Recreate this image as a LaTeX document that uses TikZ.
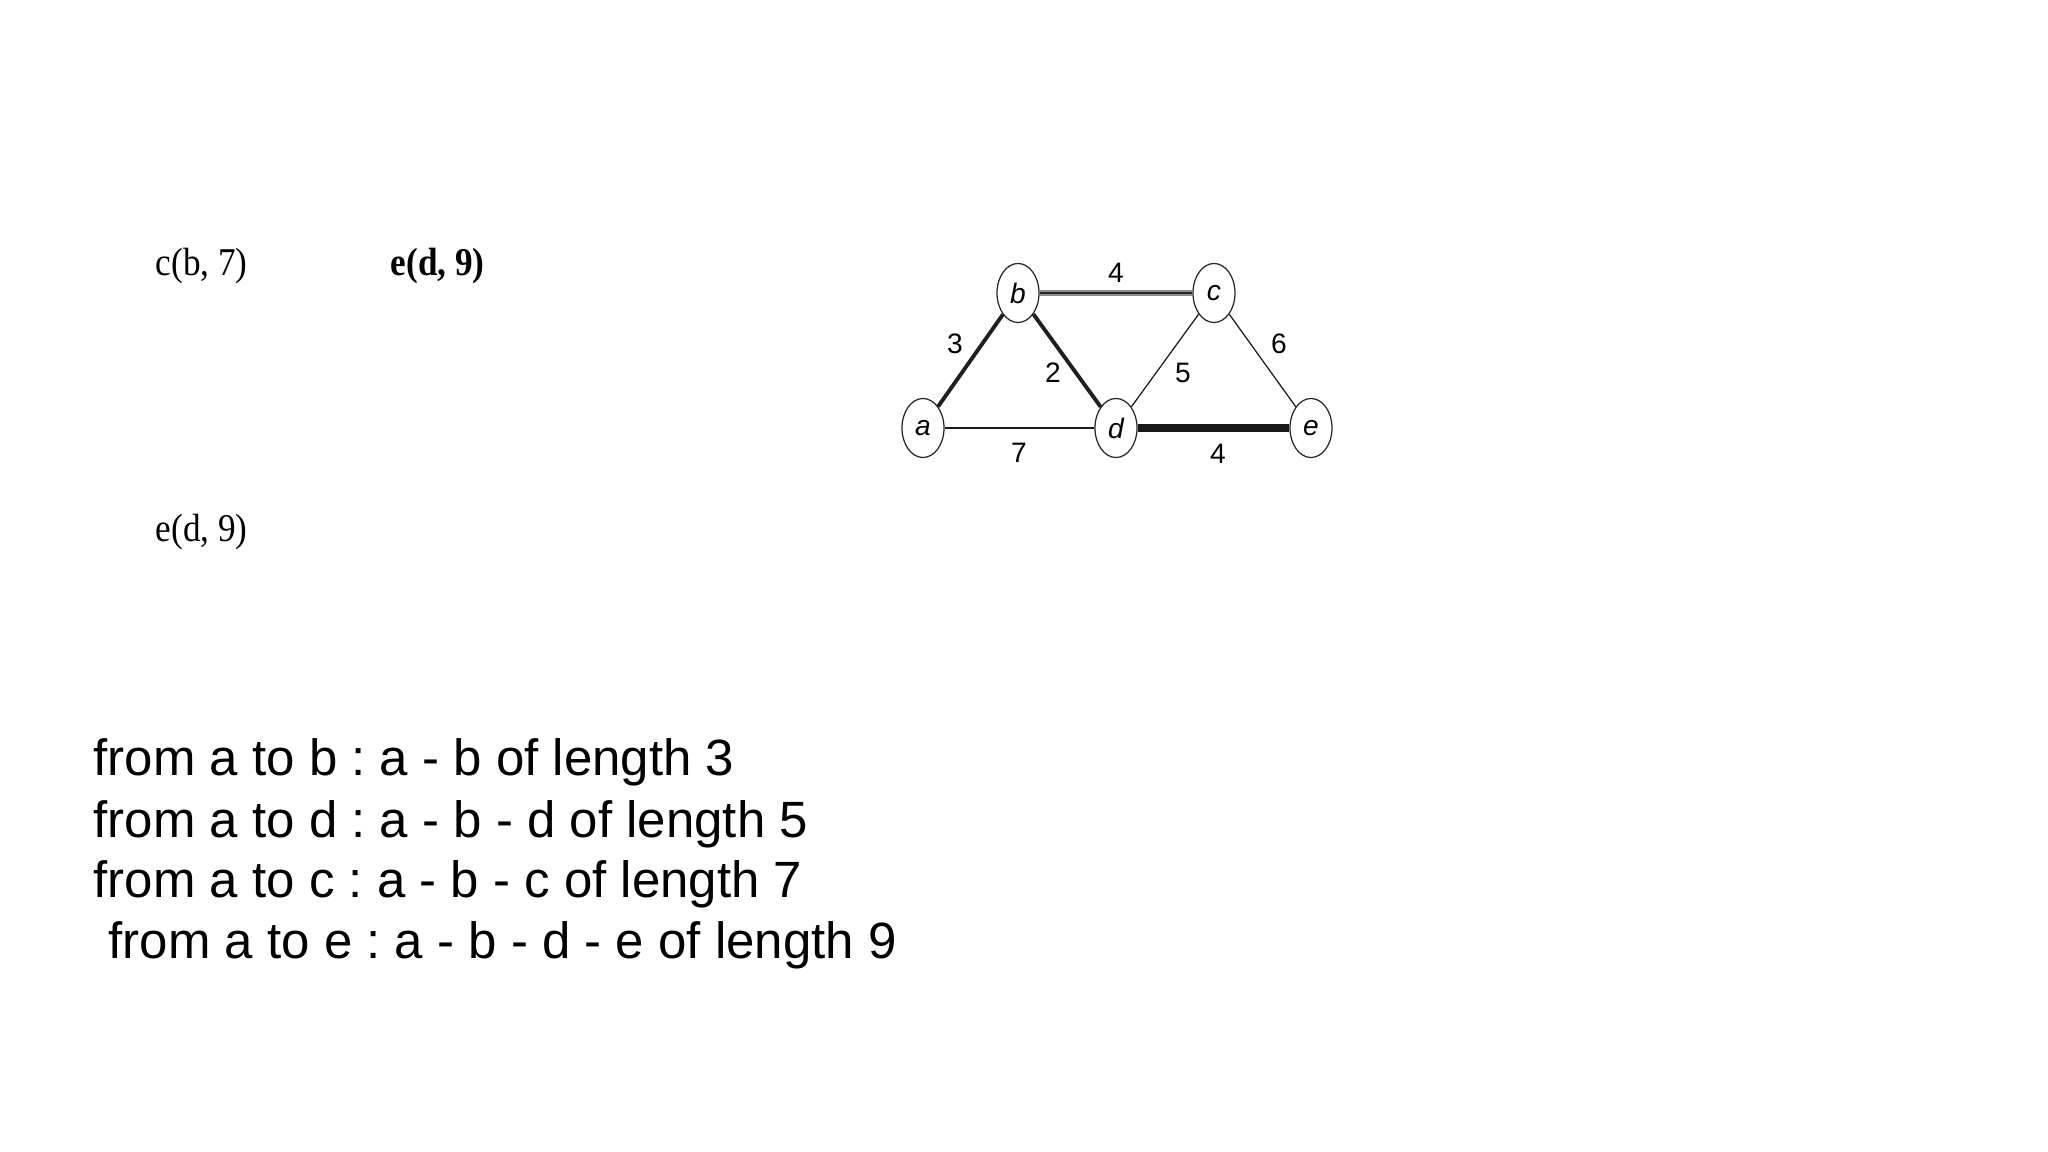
\documentclass[tikz,border=0pt]{standalone}
\usepackage{fontspec}
\setmainfont{Liberation Serif}
\setsansfont{Liberation Sans}
\usetikzlibrary{shapes.geometric}
\frenchspacing
\tikzset{
  vtx/.style={ellipse, draw=black!85, line width=0.35pt, minimum width=0.42cm, minimum height=0.59cm, inner sep=0pt, font=\sffamily\itshape\fontsize{8}{9}\selectfont},
  elabel/.style={inner sep=0pt, font=\sffamily\fontsize{8}{9}\selectfont},
  thinedge/.style={draw=black!90, line width=0.35pt},
  boldedge/.style={draw=black!88, line width=1.1pt},
  heavyedge/.style={draw=black!90, line width=2.3pt},
  greyedge/.style={draw=black!45, line width=0.45pt, double=black!85, double distance=0.75pt},
  serifnote/.style={anchor=base west, inner sep=0pt, font=\fontsize{10}{12}\selectfont},
  pathline/.style={anchor=base west, inner sep=0pt, font=\sffamily\fontsize{14.5}{17}\selectfont}
}
\begin{document}
\begin{tikzpicture}[x=0.01cm, y=-0.01cm]
\fill[white] (0,0) rectangle (2048,1152);
\useasboundingbox (0,0) rectangle (2048,1152);

% notes
\node[serifnote] (n1) at (155,276) {\scalebox{1}[1.12]{c(b, 7)}};
\node[serifnote] (n2) at (390,276) {\scalebox{1}[1.12]{\textbf{e(d, 9)}}};
\node[serifnote] (n3) at (155,542) {\scalebox{1}[1.12]{e(d, 9)}};

% graph
\node[vtx] (a) at (923,428) {a};
\node[vtx] (b) at (1018,293) {b};
\node[vtx] (c) at (1214,293) {c};
\node[vtx] (d) at (1116,428) {d};
\node[vtx] (e) at (1311,428) {e};

\draw[boldedge] (a) -- (b);
\draw[boldedge] (b) -- (d);
\draw[greyedge] (b) -- (c);
\draw[thinedge] (a) -- (d);
\draw[thinedge] (c) -- (d);
\draw[thinedge] (c) -- (e);
\draw[heavyedge] (d) -- (e);

\node[elabel] (l4t) at (1116,273) {4};
\node[elabel] (l3) at (955,344) {3};
\node[elabel] (l2) at (1053,373) {2};
\node[elabel] (l5) at (1183,373) {5};
\node[elabel] (l6) at (1279,344) {6};
\node[elabel] (l7) at (1019,453) {7};
\node[elabel] (l4b) at (1218,454) {4};

% paths
\node[pathline] (p1) at (93,775) {from a to b : a - b of length 3};
\node[pathline] (p2) at (93,837) {from a to d : a - b - d of length 5};
\node[pathline] (p3) at (93,897) {from a to c : a - b - c of length 7};
\node[pathline] (p4) at (108,958) {from a to e : a - b - d - e of length 9};
\end{tikzpicture}
\end{document}
